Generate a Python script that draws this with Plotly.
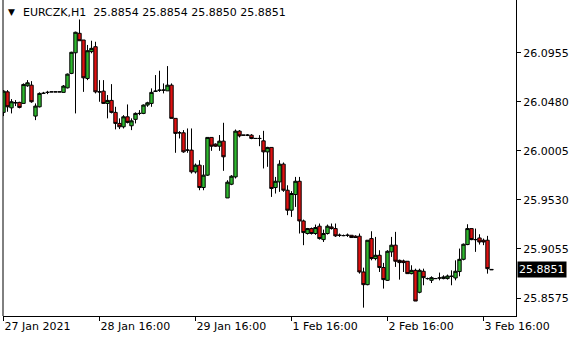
import plotly.graph_objects as go

# Bar index (hourly bars, weekend skipped), tick labels
bar_count = 123
tick_bars = [0, 24, 48, 72, 96, 120]
tick_labels = ["27 Jan 2021", "28 Jan 16:00", "29 Jan 16:00", "1 Feb 16:00", "2 Feb 16:00", "3 Feb 16:00"]
price_ticks = [26.0955, 26.0480, 26.0005, 25.9530, 25.9055, 25.8575]
symbol = "EURCZK,H1"
last_ohlc = [25.8854, 25.8854, 25.8850, 25.8851]

opens = [26.0377, 26.0576, 26.0421, 26.0468, 26.0474, 26.0464, 26.0635, 26.0641, 26.0341, 26.0431,
         26.0562, 26.0571, 26.0576, 26.0576, 26.0576, 26.0571, 26.0615, 26.0755, 26.0955, 26.1144,
         26.1079, 26.0706, 26.0966, 26.1014, 26.0576, 26.0583, 26.0464, 26.0493, 26.0377, 26.0270,
         26.0237, 26.0334, 26.0247, 26.0309, 26.0367, 26.0367, 26.0448, 26.0464, 26.0580, 26.0590,
         26.0593, 26.0586, 26.0641, 26.0319, 26.0179, 26.0179, 26.0011, 26.0011, 25.9800, 25.9865,
         25.9648, 25.9768, 26.0134, 26.0069, 26.0049, 26.0098, 25.9547, 25.9680, 25.9751, 26.0195,
         26.0156, 26.0156, 26.0156, 26.0124, 26.0124, 26.0101, 25.9994, 26.0037, 25.9648, 25.9703,
         25.9875, 25.9622, 25.9428, 25.9580, 25.9709, 25.9324, 25.9202, 25.9250, 25.9202, 25.9273,
         25.9143, 25.9202, 25.9266, 25.9250, 25.9185, 25.9182, 25.9185, 25.9185, 25.9176, 25.9176,
         25.8829, 25.8706, 25.9153, 25.8959, 25.8991, 25.8872, 25.8748, 25.9024, 25.9089, 25.8942,
         25.8936, 25.8933, 25.8813, 25.8845, 25.8632, 25.8836, 25.8765, 25.8748, 25.8765, 25.8771,
         25.8765, 25.8765, 25.8787, 25.8771, 25.8833, 25.8952, 25.9095, 25.9250, 25.9143, 25.9159,
         25.9137, 25.9137, 25.8854]
highs = [26.0593, 26.0593, 26.0506, 26.0496, 26.0480, 26.0658, 26.0690, 26.0680, 26.0464, 26.0571,
         26.0576, 26.0586, 26.0576, 26.0576, 26.0576, 26.0642, 26.0754, 26.0965, 26.1160, 26.1278,
         26.1079, 26.1031, 26.1072, 26.1062, 26.0690, 26.0690, 26.0545, 26.0651, 26.0431, 26.0319,
         26.0350, 26.0454, 26.0319, 26.0377, 26.0399, 26.0454, 26.0480, 26.0610, 26.0739, 26.0781,
         26.0658, 26.0826, 26.0658, 26.0319, 26.0195, 26.0205, 26.0221, 26.0221, 25.9881, 25.9913,
         25.9865, 26.0134, 26.0134, 26.0076, 26.0157, 26.0276, 25.9719, 25.9768, 26.0211, 26.0205,
         26.0156, 26.0166, 26.0166, 26.0124, 26.0156, 26.0198, 26.0043, 26.0037, 25.9751, 25.9913,
         25.9891, 25.9670, 25.9613, 25.9751, 25.9751, 25.9337, 25.9256, 25.9260, 25.9289, 25.9299,
         25.9240, 25.9289, 25.9299, 25.9299, 25.9202, 25.9192, 25.9202, 25.9185, 25.9185, 25.9202,
         25.8871, 25.9137, 25.9224, 25.9169, 25.9040, 25.8917, 25.9040, 25.9169, 25.9218, 25.8949,
         25.8949, 25.8933, 25.8894, 25.8861, 25.8861, 25.8861, 25.8774, 25.8787, 25.8771, 25.8823,
         25.8797, 25.8804, 25.8845, 25.8942, 25.9056, 25.9105, 25.9292, 25.9250, 25.9250, 25.9195,
         25.9153, 25.9179, 25.8854]
lows = [26.0341, 26.0383, 26.0367, 26.0438, 26.0416, 26.0464, 26.0625, 26.0470, 26.0302, 26.0425,
        26.0555, 26.0554, 26.0576, 26.0576, 26.0576, 26.0571, 26.0609, 26.0748, 26.0367, 26.1072,
        26.0576, 26.0690, 26.0950, 26.0561, 26.0480, 26.0460, 26.0319, 26.0367, 26.0212, 26.0215,
        26.0221, 26.0270, 26.0205, 26.0270, 26.0350, 26.0360, 26.0431, 26.0431, 26.0576, 26.0576,
        26.0561, 26.0586, 26.0319, 25.9985, 26.0124, 25.9985, 25.9985, 25.9784, 25.9784, 25.9622,
        25.9622, 25.9761, 26.0004, 26.0043, 26.0004, 25.9810, 25.9547, 25.9671, 25.9736, 26.0134,
        26.0156, 26.0147, 26.0117, 26.0124, 26.0049, 25.9833, 25.9849, 25.9557, 25.9590, 25.9606,
        25.9606, 25.9380, 25.9363, 25.9460, 25.9202, 25.9089, 25.9192, 25.9192, 25.9189, 25.9143,
        25.9120, 25.9192, 25.9240, 25.9169, 25.9169, 25.9176, 25.9169, 25.9163, 25.9160, 25.8813,
        25.8483, 25.8700, 25.8942, 25.8942, 25.8829, 25.8668, 25.8742, 25.8975, 25.8878, 25.8755,
        25.8829, 25.8813, 25.8806, 25.8547, 25.8622, 25.8700, 25.8755, 25.8722, 25.8761, 25.8748,
        25.8758, 25.8755, 25.8700, 25.8748, 25.8787, 25.8942, 25.9089, 25.9137, 25.9024, 25.9095,
        25.9089, 25.8813, 25.8850]
closes = [26.0583, 26.0431, 26.0480, 26.0472, 26.0425, 26.0648, 26.0664, 26.0480, 26.0438, 26.0561,
          26.0562, 26.0571, 26.0576, 26.0576, 26.0576, 26.0632, 26.0748, 26.0960, 26.1154, 26.1072,
          26.0712, 26.0975, 26.0998, 26.0576, 26.0576, 26.0464, 26.0493, 26.0377, 26.0270, 26.0237,
          26.0334, 26.0280, 26.0295, 26.0367, 26.0367, 26.0448, 26.0470, 26.0571, 26.0583, 26.0593,
          26.0593, 26.0641, 26.0319, 26.0173, 26.0179, 25.9994, 26.0011, 25.9800, 25.9865, 25.9648,
          25.9768, 26.0134, 26.0049, 26.0049, 26.0098, 25.9946, 25.9700, 25.9758, 26.0195, 26.0149,
          26.0156, 26.0156, 26.0124, 26.0124, 26.0124, 25.9994, 26.0037, 25.9639, 25.9709, 25.9875,
          25.9622, 25.9428, 25.9590, 25.9709, 25.9324, 25.9211, 25.9250, 25.9202, 25.9260, 25.9153,
          25.9202, 25.9273, 25.9250, 25.9179, 25.9185, 25.9182, 25.9185, 25.9163, 25.9163, 25.8829,
          25.8706, 25.9137, 25.8959, 25.8991, 25.8872, 25.8755, 25.9030, 25.9089, 25.8933, 25.8920,
          25.8920, 25.8813, 25.8845, 25.8547, 25.8845, 25.8774, 25.8765, 25.8774, 25.8765, 25.8771,
          25.8781, 25.8790, 25.8787, 25.8836, 25.8952, 25.9098, 25.9250, 25.9143, 25.9143, 25.9120,
          25.9120, 25.8861, 25.8851]

bars = list(range(bar_count))
FONT = "DejaVu Sans"

fig = go.Figure()
fig.add_trace(go.Candlestick(
    x=bars, open=opens, high=highs, low=lows, close=closes,
    increasing=dict(fillcolor="#2EB82E", line=dict(color="black", width=1)),
    decreasing=dict(fillcolor="#E01010", line=dict(color="black", width=1)),
    whiskerwidth=0, hoverinfo="skip", showlegend=False,
))

fig.update_layout(
    width=580, height=340,
    margin=dict(l=3, r=64, t=0, b=24),
    paper_bgcolor="white", plot_bgcolor="white",
    font=dict(family=FONT, size=11, color="black"),
    showlegend=False,
    boxgap=0.15, boxgroupgap=0,
    xaxis=dict(
        range=[-0.125, 128.125], rangeslider=dict(visible=False),
        showgrid=False, zeroline=False,
        showline=True, linecolor="black", linewidth=1,
        ticks="outside", ticklen=4, tickcolor="black", tickwidth=1,
        tickvals=tick_bars, ticktext=tick_labels,
        ticklabelposition="outside right",
        tickfont=dict(family=FONT, size=11, color="black"),
    ),
    yaxis=dict(
        range=[25.8402, 26.1467], side="right",
        showgrid=False, zeroline=False,
        showline=True, linecolor="black", linewidth=1,
        ticks="outside", ticklen=4, tickcolor="black", tickwidth=1,
        tickvals=price_ticks, ticktext=[f"{v:.4f}" for v in price_ticks],
        tickfont=dict(family=FONT, size=11, color="black"),
    ),
)

# left frame border
fig.add_shape(type="line", xref="paper", yref="paper", x0=0, x1=0, y0=0, y1=1,
              line=dict(color="black", width=1))

# header
fig.add_annotation(xref="paper", yref="paper", x=0.006, y=0.962, xanchor="left", yanchor="middle",
                   text="▼", showarrow=False, font=dict(family=FONT, size=9, color="black"))
fig.add_annotation(xref="paper", yref="paper", x=0.035, y=0.962, xanchor="left", yanchor="middle",
                   text=symbol + "  " + " ".join(f"{v:.4f}" for v in last_ohlc), showarrow=False,
                   font=dict(family=FONT, size=11, color="black"))

# current price label
fig.add_annotation(xref="paper", yref="y", x=1, y=last_ohlc[3], xanchor="left", yanchor="middle",
                   text=f"{last_ohlc[3]:.4f}", showarrow=False, bgcolor="black", borderpad=1,
                   xshift=1, font=dict(family=FONT, size=11, color="white"))

fig.write_html("out.html", config={"displayModeBar": False})
